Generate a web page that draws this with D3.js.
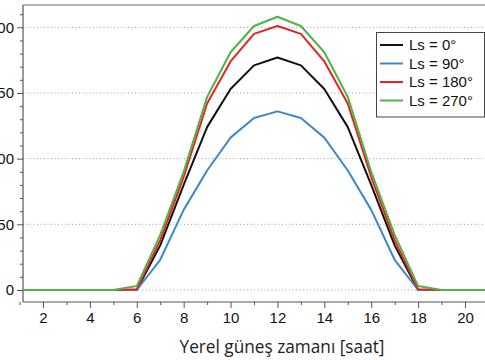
<!DOCTYPE html>
<html>
<head>
<meta charset="utf-8">
<script src="https://cdn.jsdelivr.net/npm/d3@7"></script>
<style>
  html, body { margin: 0; padding: 0; background: #fff; }
  svg { display: block; }
</style>
</head>
<body>
<script>
// ---- data ----
const hours = [0,1,2,3,4,5,6,7,8,9,10,11,12,13,14,15,16,17,18,19,20,21,22,23,24];
const ls0   = [0,0,0,0,0,0,0,34,80,124,153,171,177,171,153,124,80,34,0,0,0,0,0,0,0];
const ls90  = [0,0,0,0,0,0,0,23,61,91,116,131,136,131,116,91,61,23,0,0,0,0,0,0,0];
const ls180 = [0,0,0,0,0,0,0.5,38,86,142,174,195,201,195,174,142,86,38,0.5,0,0,0,0,0,0];
const ls270 = [0,0,0,0,0,0,3,42,90,147,181,201,208,201,181,147,90,42,3,0,0,0,0,0,0];
const seriesNames = ["Ls = 0°", "Ls = 90°", "Ls = 180°", "Ls = 270°"];
const seriesColors = ["#111111", "#3f88c8", "#e5231f", "#4fb348"];
const seriesValues = [ls0, ls90, ls180, ls270];
const xMajorTicks = [2,4,6,8,10,12,14,16,18,20];
const xMinorTicks = [1,3,5,7,9,11,13,15,17,19,21];
const yMajorTicks = [0,50,100,150,200];
const yMinorTicks = [10,20,30,40,60,70,80,90,110,120,130,140,160,170,180,190,210];
const xLabel = "Yerel güneş zamanı [saat]";

const W = 485, H = 360;
const plotL = 23, plotR = 492, plotT = 5, plotB = 302;

const svg = d3.select("body").append("svg").attr("width", W).attr("height", H);

const x = d3.scaleLinear().domain([2, 20]).range([43, 465]);
const y = d3.scaleLinear().domain([0, 200]).range([290, 27.3]);

// clip
svg.append("defs").append("clipPath").attr("id", "clip")
  .append("rect").attr("x", plotL).attr("y", plotT).attr("width", plotR - plotL).attr("height", plotB - plotT);

// grid
svg.append("g").selectAll("line").data(yMajorTicks).join("line")
  .attr("x1", plotL).attr("x2", plotR)
  .attr("y1", d => y(d)).attr("y2", d => y(d))
  .attr("stroke", "#9a9a9a").attr("stroke-width", 1).attr("stroke-dasharray", "1,2.5");

// frame top
svg.append("line").attr("x1", plotL).attr("x2", plotR).attr("y1", plotT).attr("y2", plotT)
  .attr("stroke", "#9a9a9a").attr("stroke-width", 1.5);

// axes
const fontTick = "'Liberation Sans', Arial, sans-serif";
const xAxisG = svg.append("g").attr("transform", `translate(0,${plotB})`);
xAxisG.append("g").call(d3.axisBottom(x).tickValues(xMajorTicks).tickSize(6).tickPadding(4).tickFormat(d3.format("d")))
  .call(g => g.select(".domain").remove());
xAxisG.append("g").call(d3.axisBottom(x).tickValues(xMinorTicks).tickSize(3).tickFormat(""))
  .call(g => g.select(".domain").remove());
xAxisG.selectAll("line").attr("stroke", "#555");
xAxisG.selectAll("text").attr("font-family", fontTick).attr("font-size", 15).attr("fill", "#111");

const yAxisG = svg.append("g").attr("transform", `translate(${plotL},0)`);
yAxisG.append("g").call(d3.axisLeft(y).tickValues(yMajorTicks).tickSize(6).tickPadding(3).tickFormat(d3.format("d")))
  .call(g => g.select(".domain").remove());
yAxisG.append("g").call(d3.axisLeft(y).tickValues(yMinorTicks).tickSize(3).tickFormat(""))
  .call(g => g.select(".domain").remove());
yAxisG.selectAll("line").attr("stroke", "#555");
yAxisG.selectAll("text").attr("font-family", fontTick).attr("font-size", 15).attr("fill", "#111");

svg.append("line").attr("x1", plotL).attr("x2", plotL).attr("y1", plotT).attr("y2", plotB)
  .attr("stroke", "#555").attr("stroke-width", 1.2);
svg.append("line").attr("x1", plotL).attr("x2", plotR).attr("y1", plotB).attr("y2", plotB)
  .attr("stroke", "#555").attr("stroke-width", 1.2);

// lines
const line = d3.line().x((d, i) => x(hours[i])).y(d => y(d));
const linesG = svg.append("g").attr("clip-path", "url(#clip)");
seriesValues.forEach((vals, k) => {
  linesG.append("path").datum(vals)
    .attr("d", line)
    .attr("fill", "none")
    .attr("stroke", seriesColors[k])
    .attr("stroke-width", 2)
    .attr("stroke-linejoin", "round");
});

// legend
const lg = svg.append("g");
lg.append("rect").attr("x", 376.5).attr("y", 32.5).attr("width", 108).attr("height", 84.5)
  .attr("fill", "#fff").attr("stroke", "#444").attr("stroke-width", 1);
const rowY = [45, 63.5, 82, 100.5];
seriesNames.forEach((name, k) => {
  lg.append("line").attr("x1", 380).attr("x2", 403).attr("y1", rowY[k]).attr("y2", rowY[k])
    .attr("stroke", seriesColors[k]).attr("stroke-width", 2);
  lg.append("text").attr("x", 409).attr("y", rowY[k]).attr("dy", "0.36em")
    .attr("font-family", fontTick).attr("font-size", 15).attr("fill", "#111").text(name);
});

// x label
svg.append("text").attr("x", 282).attr("y", 353).attr("text-anchor", "middle")
  .attr("font-family", "'Open Sans', sans-serif").attr("font-size", 17.5).attr("fill", "#222")
  .attr("textLength", 205).attr("lengthAdjust", "spacingAndGlyphs")
  .text(xLabel);
</script>
</body>
</html>
